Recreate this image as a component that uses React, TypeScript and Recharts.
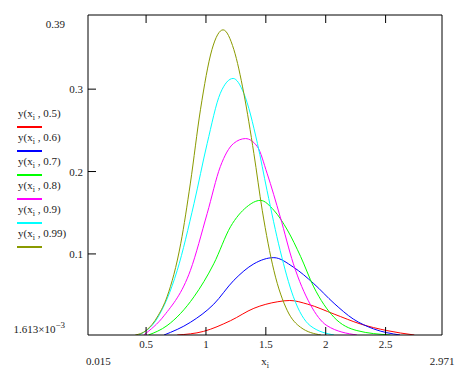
import React from 'react';
import { LineChart, Line, XAxis, YAxis, Label } from 'recharts';

// second argument of y(x_i, p) for each curve
const params = ['0.5', '0.6', '0.7', '0.8', '0.9', '0.99'];
const colors = ['#ff0000', '#0000ff', '#00ff00', '#ff00ff', '#00ffff', '#8a9a00'];

// values, one x / y pair of arrays per curve
const x05 = [0.76, 0.98, 1.205, 1.4, 1.6, 1.7, 1.85, 2.07, 2.29, 2.51, 2.74];
const y05 = [0.0016, 0.006, 0.019, 0.034, 0.042, 0.0435, 0.039, 0.027, 0.015, 0.007, 0.0016];

const x06 = [0.65, 0.87, 1.065, 1.233, 1.4, 1.567, 1.73, 1.9, 2.07, 2.23, 2.4, 2.62];
const y06 = [0.0016, 0.017, 0.039, 0.068, 0.088, 0.0955, 0.084, 0.064, 0.04, 0.021, 0.009, 0.0016];

const x07 = [0.52, 0.675, 0.9, 1.065, 1.205, 1.34, 1.455, 1.567, 1.68, 1.79, 1.9, 2.07, 2.26, 2.54];
const y07 = [0.0016, 0.013, 0.048, 0.088, 0.133, 0.157, 0.165, 0.153, 0.129, 0.097, 0.06, 0.023, 0.007, 0.0016];

const x08 = [0.48, 0.65, 0.87, 1.01, 1.12, 1.23, 1.33, 1.43, 1.51, 1.62, 1.73, 1.87, 2.01, 2.26];
const y08 = [0.0016, 0.025, 0.08, 0.149, 0.206, 0.234, 0.24, 0.23, 0.198, 0.145, 0.088, 0.039, 0.013, 0.0016];

const x09 = [0.44, 0.59, 0.76, 0.9, 1.01, 1.12, 1.227, 1.316, 1.43, 1.51, 1.62, 1.73, 1.87, 2.07];
const y09 = [0.0016, 0.021, 0.08, 0.161, 0.234, 0.295, 0.313, 0.295, 0.234, 0.177, 0.104, 0.048, 0.013, 0.0016];

const x099 = [0.41, 0.5, 0.6, 0.675, 0.79, 0.87, 0.954, 1.05, 1.143, 1.233, 1.316, 1.4, 1.47, 1.567, 1.68, 1.79, 1.96];
const y099 = [0.0016, 0.007, 0.025, 0.048, 0.113, 0.186, 0.275, 0.348, 0.372, 0.348, 0.295, 0.222, 0.153, 0.08, 0.031, 0.011, 0.0016];

const xTicks = [0.015, 0.5, 1, 1.5, 2, 2.5, 2.971];
const yTicks = [0.001613, 0.1, 0.2, 0.3, 0.39];
const xMin = 0.015;
const xMax = 2.971;
const yMin = 0.001613;
const yMax = 0.39;

const zip = (xs: number[], ys: number[]) => xs.map((x, i) => ({ x, y: ys[i] }));
const series = [
  zip(x05, y05), zip(x06, y06), zip(x07, y07),
  zip(x08, y08), zip(x09, y09), zip(x099, y099),
].map((data, i) => ({ name: params[i], color: colors[i], data }));

const FONT = '"Liberation Serif", "Times New Roman", serif';
const TXT = '#222';

const BottomTick = ({ x, y, payload }: any) => {
  const v = payload.value;
  if (v === xMin) {
    return <text x={x - 2} y={y + 30} fontSize={11} fontFamily={FONT} fill={TXT}>0.015</text>;
  }
  if (v === xMax) {
    return <text x={x} y={y + 30} fontSize={11} fontFamily={FONT} fill={TXT} textAnchor="middle">2.971</text>;
  }
  return (
    <g>
      <line x1={x} x2={x} y1={y} y2={y - 8} stroke="#000" />
      <text x={x} y={y + 13} fontSize={11} fontFamily={FONT} fill={TXT} textAnchor="middle">{v}</text>
    </g>
  );
};

const TopTick = ({ x, y }: any) => <line x1={x} x2={x} y1={y} y2={y + 8} stroke="#000" />;

const LeftTick = ({ x, y, payload }: any) => {
  const v = payload.value;
  if (v === yMax) {
    return <text x={x - 23} y={y + 13} fontSize={11} fontFamily={FONT} fill={TXT} textAnchor="end">0.39</text>;
  }
  if (v === yMin) {
    return (
      <text x={x - 23} y={y - 2} fontSize={11} fontFamily={FONT} fill={TXT} textAnchor="end">
        1.613×10<tspan dy={-5} fontSize={9}>−3</tspan>
      </text>
    );
  }
  return (
    <g>
      <line x1={x} x2={x + 8} y1={y} y2={y} stroke="#000" />
      <text x={x - 5} y={y + 4} fontSize={11} fontFamily={FONT} fill={TXT} textAnchor="end">{v}</text>
    </g>
  );
};

const XLabel = ({ viewBox }: any) => (
  <text x={viewBox.x + viewBox.width / 2} y={viewBox.y + 30} fontSize={11} fontFamily={FONT} fill={TXT} textAnchor="middle">
    x<tspan dy={3} fontSize={8}>i</tspan>
  </text>
);

export default function App() {
  return (
    <div style={{ position: 'absolute', left: 0, top: 0, width: 470, height: 369, background: '#fff' }}>
      <LineChart width={470} height={369} margin={{ top: 0, right: 0, bottom: 0, left: 0 }}>
        <XAxis xAxisId="bottom" type="number" dataKey="x" domain={[xMin, xMax]} allowDataOverflow
          ticks={xTicks} interval={0} height={34} tickSize={0} tickMargin={0} tickLine={false}
          axisLine={{ stroke: '#000' }} tick={<BottomTick />}>
          <Label content={<XLabel />} />
        </XAxis>
        <XAxis xAxisId="top" orientation="top" type="number" dataKey="x" domain={[xMin, xMax]} allowDataOverflow
          ticks={[0.5, 1, 1.5, 2, 2.5]} interval={0} height={15} tickSize={0} tickMargin={0} tickLine={false}
          axisLine={{ stroke: '#000' }} tick={<TopTick />} />
        <YAxis yAxisId="left" type="number" domain={[yMin, yMax]} allowDataOverflow
          ticks={yTicks} interval={0} width={88} tickSize={0} tickMargin={0} tickLine={false}
          axisLine={{ stroke: '#000' }} tick={<LeftTick />} />
        <YAxis yAxisId="right" orientation="right" type="number" domain={[yMin, yMax]} allowDataOverflow
          width={28} tick={false} tickLine={false} axisLine={{ stroke: '#000' }} />
        {series.map((s) => (
          <Line key={s.name} xAxisId="bottom" yAxisId="left" data={s.data} dataKey="y" name={s.name}
            type="monotone" stroke={s.color} strokeWidth={1} dot={false} activeDot={false}
            isAnimationActive={false} />
        ))}
      </LineChart>
      <svg width={80} height={260} style={{ position: 'absolute', left: 0, top: 0 }}>
        {series.map((s, i) => (
          <g key={s.name}>
            <text x={18} y={117 + i * 24} fontSize={11} fontFamily={FONT} fill={TXT}>
              y(x<tspan dy={3} fontSize={8}>i</tspan><tspan dy={-3}> , {s.name})</tspan>
            </text>
            <rect x={17} y={126} transform={`translate(0, ${i * 24})`} width={25} height={2} fill={s.color} />
          </g>
        ))}
      </svg>
    </div>
  );
}
